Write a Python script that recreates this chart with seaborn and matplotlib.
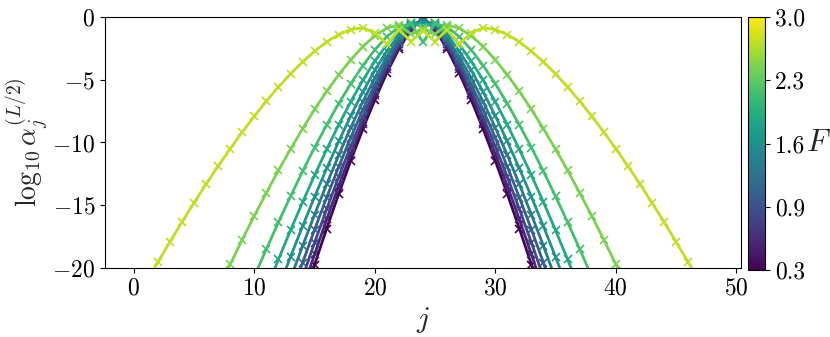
import numpy as np
import pandas as pd
import seaborn as sns
import matplotlib
matplotlib.use("Agg")
import matplotlib.pyplot as plt
from matplotlib.colors import Normalize

# log10 alpha_j^(L/2), going outward from the centre site j = 24
# (every curve is mirror symmetric about j = 24), one list per curve, narrowest first
center = 24
prof_0 = [-0.10, -1.00, -2.54, -4.44, -6.60, -8.95, -11.45, -14.10, -16.86, -19.72, -22.67]
prof_1 = [-0.12, -0.92, -2.37, -4.17, -6.24, -8.49, -10.91, -13.46, -16.13, -18.90, -21.76]
prof_2 = [-0.16, -0.84, -2.17, -3.88, -5.83, -7.99, -10.30, -12.75, -15.31, -17.98, -20.74]
prof_3 = [-0.21, -0.74, -1.96, -3.54, -5.38, -7.41, -9.61, -11.94, -14.39, -16.94, -19.58, -22.31]
prof_4 = [-0.29, -0.65, -1.71, -3.16, -4.86, -6.76, -8.82, -11.01, -13.33, -15.74, -18.25, -20.84]
prof_5 = [-0.44, -0.55, -1.44, -2.71, -4.25, -5.98, -7.88, -9.92, -12.07, -14.33, -16.68, -19.11,
          -21.62]
prof_6 = [-0.76, -0.48, -1.13, -2.19, -3.52, -5.05, -6.75, -8.59, -10.55, -12.61, -14.76, -16.99,
          -19.31, -21.69]
prof_7 = [-2.02, -0.52, -0.80, -1.56, -2.61, -3.88, -5.32, -6.90, -8.60, -10.40, -12.30, -14.29,
          -16.35, -18.48, -20.67]
prof_8 = [-0.91, -1.37, -0.65, -0.88, -1.50, -2.36, -3.41, -4.61, -5.93, -7.37, -8.91, -10.53,
          -12.22, -14.00, -15.83, -17.73, -19.69, -21.70]
prof_9 = [-1.10, -1.96, -1.01, -2.16, -1.24, -0.87, -1.00, -1.40, -1.99, -2.73, -3.58, -4.53,
          -5.58, -6.70, -7.90, -9.16, -10.49, -11.87, -13.30, -14.79, -16.32, -17.90, -19.52,
          -21.18, -22.88]
profiles = [prof_0, prof_1, prof_2, prof_3, prof_4, prof_5, prof_6, prof_7, prof_8, prof_9]

cbar_ticks = [0.3, 0.975, 1.65, 2.325, 3.0]
cbar_labels = ['0.3', '0.9', '1.6', '2.3', '3.0']

#long table, mirrored around the centre
rows = []
for k, prof in enumerate(profiles):
    for m, v in enumerate(prof):
        for j in sorted({center - m, center + m}):
            rows.append({'curve': k, 'j': j, 'val': v})
df = pd.DataFrame(rows)

colors = [plt.cm.viridis(k / 10) for k in range(len(profiles))]

sns.set_style('ticks')
plt.rcParams.update({
    'font.family': 'cmr10',
    'mathtext.fontset': 'cm',
    'axes.formatter.use_mathtext': True,
    'font.size': 17,
    'axes.edgecolor': 'black',
    'xtick.color': 'black',
    'ytick.color': 'black',
})

fig = plt.figure(figsize=(8.3, 3.37), dpi=100)
ax = fig.add_axes([0.1265, 0.2047, 0.7663, 0.745])
sns.lineplot(data=df, x='j', y='val', hue='curve', palette=colors, estimator=None,
             marker='x', markersize=5.5, markeredgewidth=1.2, linewidth=2,
             legend=False, ax=ax)
for line in ax.lines:
    line.set_markeredgecolor(line.get_color())

ax.set_xlim(-2.4, 50.4)
ax.set_ylim(-20, 0)
ax.set_xticks([0, 10, 20, 30, 40, 50])
ax.set_yticks([0, -5, -10, -15, -20])
ax.tick_params(labelsize=17)
ax.set_xlabel('$j$', fontsize=21, labelpad=4)
ax.set_ylabel(r'$\log_{10}\alpha_j^{(L/2)}$', fontsize=20, labelpad=2)

cax = fig.add_axes([748 / 830, 67 / 337, 17 / 830, 253 / 337])
sm = plt.cm.ScalarMappable(norm=Normalize(0.3, 3.0), cmap='viridis')
cb = fig.colorbar(sm, cax=cax, ticks=cbar_ticks)
cb.set_ticklabels(cbar_labels)
cb.ax.tick_params(labelsize=17)
cb.set_label('$F$', rotation=0, fontsize=22, labelpad=10, va='center')

fig.savefig('out.png', dpi=100)
